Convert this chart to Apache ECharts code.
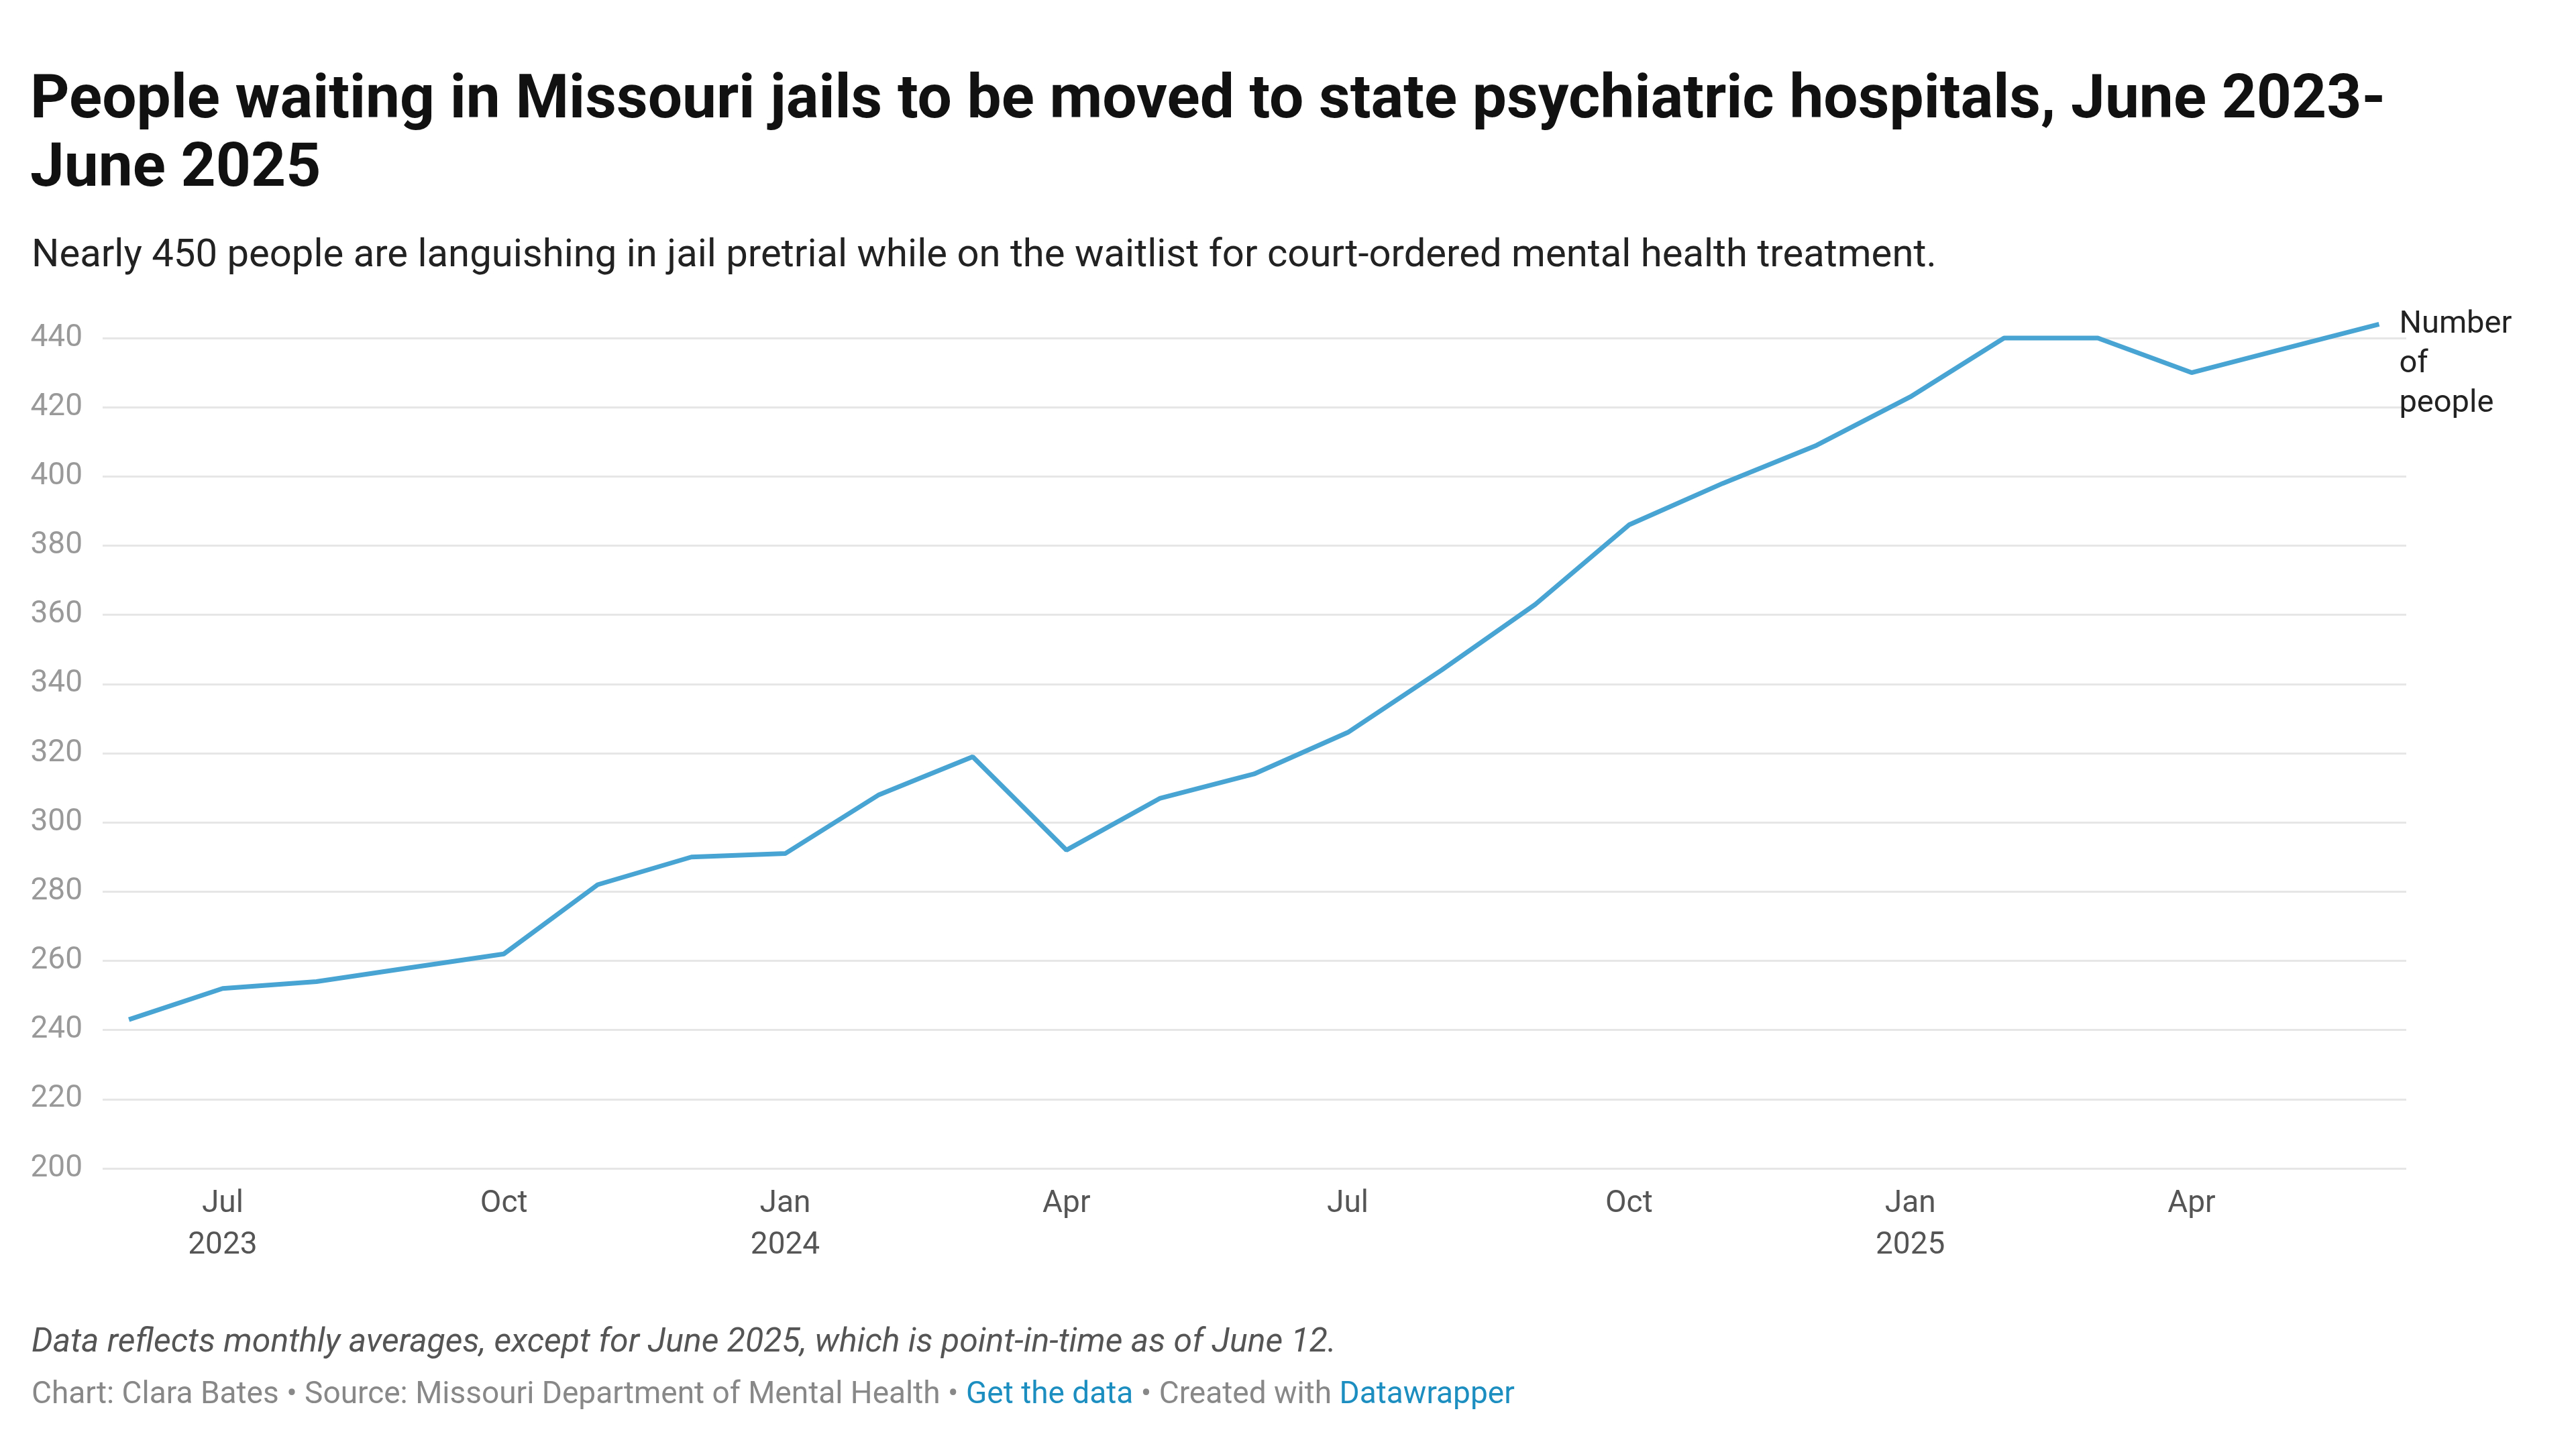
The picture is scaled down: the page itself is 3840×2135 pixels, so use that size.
<!DOCTYPE html>
<html><head><meta charset="utf-8">
<script src="https://cdn.jsdelivr.net/npm/echarts@6/dist/echarts.min.js"></script>
<style>html,body{margin:0;padding:0;background:#fff}#c{width:3840px;height:2135px}</style>
</head><body><div id="c"></div>
<script>
const months = ['Jun 2023','Jul 2023','Aug 2023','Sep 2023','Oct 2023','Nov 2023','Dec 2023','Jan 2024','Feb 2024','Mar 2024','Apr 2024','May 2024','Jun 2024','Jul 2024','Aug 2024','Sep 2024','Oct 2024','Nov 2024','Dec 2024','Jan 2025','Feb 2025','Mar 2025','Apr 2025','May 2025','Jun 2025'];
const people = [243,252,254,258,262,282,290,291,308,319,292,307,314,326,344,363,386,398,409,423,440,440,430,437,444];
const tickIdx = [1,4,7,10,13,16,19,22];
const tickLabels = ['Jul\n2023','Oct','Jan\n2024','Apr','Jul','Oct','Jan\n2025','Apr'];
const yTicks = [200,220,240,260,280,300,320,340,360,380,400,420,440];

const F='Roboto';
const chart = echarts.init(document.getElementById('c'));
chart.setOption({
  animation:false,
  textStyle:{fontFamily:F},
  title:[
    {text:'People waiting in Missouri jails to be moved to state psychiatric hospitals, June 2023-\nJune 2025',left:40,top:96,
     textStyle:{fontFamily:F,fontSize:91,fontWeight:'bold',color:'#111',lineHeight:102}},
    {text:'Nearly 450 people are languishing in jail pretrial while on the waitlist for court-ordered mental health treatment.',left:42,top:348,
     textStyle:{fontFamily:F,fontSize:58,fontWeight:'normal',color:'#222'}},
    {text:'Data reflects monthly averages, except for June 2025, which is point-in-time as of June 12.',left:42,top:1972,
     textStyle:{fontFamily:F,fontSize:50,fontStyle:'italic',fontWeight:'normal',color:'#555'}},
    {text:'Chart: Clara Bates • Source: Missouri Department of Mental Health • {l|Get the data} • Created with {l|Datawrapper}',left:42,top:2052,
     textStyle:{fontFamily:F,fontSize:46,fontWeight:'normal',color:'#888',rich:{l:{fontFamily:F,fontSize:46,color:'#1d8ec0'}}}}
  ],
  grid:{left:153,right:253,top:504,bottom:393},
  xAxis:{type:'value',min:-0.28,max:24.29,
    axisLine:{show:false},splitLine:{show:false},
    axisTick:{show:false},
    axisLabel:{customValues:tickIdx,fontFamily:F,fontSize:46,color:'#555',lineHeight:62,margin:22,
      formatter:v=>tickLabels[tickIdx.indexOf(Math.round(v))]||''}},
  yAxis:{type:'value',min:200,max:440,interval:20,
    axisLine:{show:false},axisTick:{show:false},
    splitLine:{lineStyle:{color:'#e6e6e6',width:3}},
    axisLabel:{fontFamily:F,fontSize:46,color:'#999',margin:30}},
  series:[{type:'line',clip:false,symbol:'none',
    data:people.map((v,i)=>[i,v]),
    lineStyle:{color:'#48a4d2',width:7},
    endLabel:{show:true,formatter:'Number\nof\npeople',fontFamily:F,fontSize:47,color:'#222',lineHeight:59,distance:30,offset:[0,60]}
  }]
});
</script></body></html>
